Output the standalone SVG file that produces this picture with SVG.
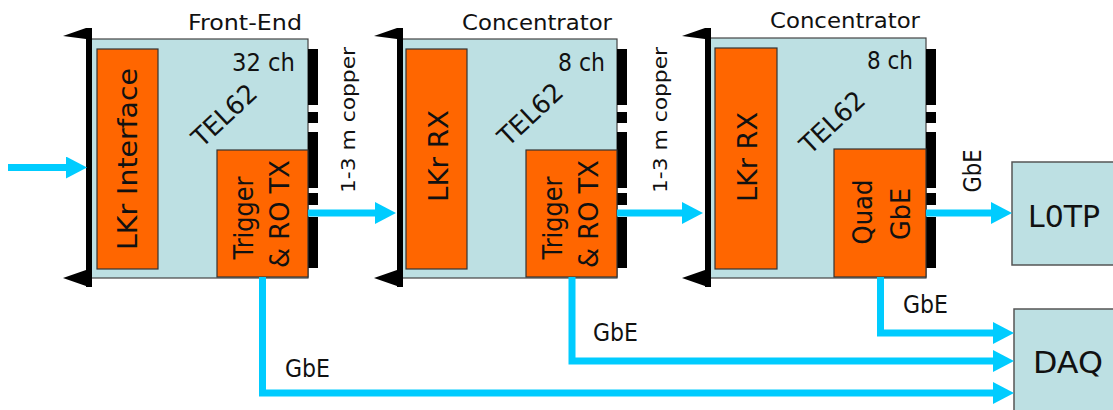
<svg xmlns="http://www.w3.org/2000/svg" xmlns:xlink="http://www.w3.org/1999/xlink" width="1113" height="410" viewBox="0 0 1113 410">
<style>
.board{fill:#bde0e3;stroke:#444;stroke-width:1.2}
.chip{fill:#ff6600;stroke:#333;stroke-width:1.2}
.box{fill:#bde0e3;stroke:#555;stroke-width:1.5}
.strip{fill:#000}
.t{font-family:"DejaVu Sans",sans-serif;fill:#111}
.wire{fill:none;stroke:#00ccff;stroke-width:7;stroke-linejoin:miter}
</style>
<defs>
<marker id="ah" markerUnits="userSpaceOnUse" markerWidth="22" markerHeight="22" viewBox="0 0 22 22" refX="1" refY="11" orient="auto">
<path d="M0,0 L21,11 L0,22 Z" fill="#00ccff"/>
</marker>
<g id="handle">
<rect x="0" y="28" width="6" height="259" fill="#000"/>
<polygon points="-23,36 0,28 6,28 6,41 0,39" fill="#000"/>
<polygon points="-23,278 0,270 6,270 6,287 0,286" fill="#000"/>
</g>
<g id="strips">
<rect class="strip" x="0" y="49" width="10" height="56"/>
<rect class="strip" x="0" y="112" width="10" height="11"/>
<rect class="strip" x="0" y="132" width="10" height="56"/>
<rect class="strip" x="0" y="193" width="10" height="12"/>
<rect class="strip" x="0" y="217" width="10" height="51"/>
</g>
</defs>

<g id="board1">
<rect class="board" x="90" y="39" width="218" height="239"/>
<use xlink:href="#handle" href="#handle" x="86" y="0"/>
<use xlink:href="#strips" href="#strips" x="308" y="0"/>
<rect class="chip" x="97" y="49" width="61" height="220"/>
<rect class="chip" x="217" y="150" width="91" height="127"/>
<text class="t" x="302" y="30" font-size="21" text-anchor="end" textLength="114" lengthAdjust="spacingAndGlyphs">Front-End</text>
<text class="t" x="295" y="71" font-size="24" text-anchor="end" textLength="63" lengthAdjust="spacingAndGlyphs">32 ch</text>
<text class="t" transform="translate(224,115) rotate(-43)" x="0" y="9.5" font-size="26" text-anchor="middle" textLength="78" lengthAdjust="spacingAndGlyphs">TEL62</text>
<text class="t" transform="translate(137,159) rotate(-90)" x="0" y="0" font-size="27" text-anchor="middle" textLength="182" lengthAdjust="spacingAndGlyphs">LKr Interface</text>
<text class="t" transform="translate(253,218) rotate(-90)" x="0" y="0" font-size="26" text-anchor="middle" textLength="83" lengthAdjust="spacingAndGlyphs">Trigger</text>
<text class="t" transform="translate(289,214) rotate(-90)" x="0" y="0" font-size="26" text-anchor="middle" textLength="108" lengthAdjust="spacingAndGlyphs">&amp; RO TX</text>
</g>

<g id="board2">
<rect class="board" x="402" y="39" width="215" height="239"/>
<use xlink:href="#handle" href="#handle" x="397" y="0"/>
<use xlink:href="#strips" href="#strips" x="617" y="0"/>
<rect class="chip" x="406" y="49" width="61" height="220"/>
<rect class="chip" x="526" y="150" width="91" height="127"/>
<text class="t" x="612" y="30" font-size="21" text-anchor="end" textLength="150" lengthAdjust="spacingAndGlyphs">Concentrator</text>
<text class="t" x="605" y="71" font-size="24" text-anchor="end" textLength="47" lengthAdjust="spacingAndGlyphs">8 ch</text>
<text class="t" transform="translate(530,114) rotate(-43)" x="0" y="9.5" font-size="26" text-anchor="middle" textLength="78" lengthAdjust="spacingAndGlyphs">TEL62</text>
<text class="t" transform="translate(448,156) rotate(-90)" x="0" y="0" font-size="27" text-anchor="middle" textLength="92" lengthAdjust="spacingAndGlyphs">LKr RX</text>
<text class="t" transform="translate(562,218) rotate(-90)" x="0" y="0" font-size="26" text-anchor="middle" textLength="83" lengthAdjust="spacingAndGlyphs">Trigger</text>
<text class="t" transform="translate(598,214) rotate(-90)" x="0" y="0" font-size="26" text-anchor="middle" textLength="108" lengthAdjust="spacingAndGlyphs">&amp; RO TX</text>
</g>

<g id="board3">
<rect class="board" x="710" y="38" width="216" height="240"/>
<use xlink:href="#handle" href="#handle" x="705" y="0"/>
<use xlink:href="#strips" href="#strips" x="926" y="0"/>
<rect class="chip" x="715" y="48" width="62" height="221"/>
<rect class="chip" x="834" y="149" width="92" height="128"/>
<text class="t" x="920" y="28" font-size="21" text-anchor="end" textLength="150" lengthAdjust="spacingAndGlyphs">Concentrator</text>
<text class="t" x="913" y="69" font-size="24" text-anchor="end" textLength="46" lengthAdjust="spacingAndGlyphs">8 ch</text>
<text class="t" transform="translate(832,122) rotate(-43)" x="0" y="9.5" font-size="26" text-anchor="middle" textLength="78" lengthAdjust="spacingAndGlyphs">TEL62</text>
<text class="t" transform="translate(757,157) rotate(-90)" x="0" y="0" font-size="27" text-anchor="middle" textLength="90" lengthAdjust="spacingAndGlyphs">LKr RX</text>
<text class="t" transform="translate(872,212) rotate(-90)" x="0" y="0" font-size="26" text-anchor="middle" textLength="65" lengthAdjust="spacingAndGlyphs">Quad</text>
<text class="t" transform="translate(910,214) rotate(-90)" x="0" y="0" font-size="26" text-anchor="middle" textLength="52" lengthAdjust="spacingAndGlyphs">GbE</text>
</g>

<g id="l0tp">
<rect class="box" x="1012" y="162" width="110" height="103"/>
<text class="t" x="1028" y="227" font-size="30" textLength="72" lengthAdjust="spacingAndGlyphs">L0TP</text>
</g>

<g id="daq">
<rect class="box" x="1014" y="309" width="110" height="120"/>
<text class="t" x="1033" y="373" font-size="31" textLength="70" lengthAdjust="spacingAndGlyphs">DAQ</text>
</g>

<g id="connectors">
<path class="wire" d="M8,167.5 H67" marker-end="url(#ah)"/>
<path class="wire" d="M308,213 H376" marker-end="url(#ah)"/>
<path class="wire" d="M617,213 H683" marker-end="url(#ah)"/>
<path class="wire" d="M926,213 H992" marker-end="url(#ah)"/>
<path class="wire" d="M262.5,277 V393 H994" marker-end="url(#ah)"/>
<path class="wire" d="M572,277 V361 H994" marker-end="url(#ah)"/>
<path class="wire" d="M880.5,277 V333 H994" marker-end="url(#ah)"/>
<text class="t" transform="translate(355,120) rotate(-90)" x="0" y="0" font-size="20" text-anchor="middle" textLength="146" lengthAdjust="spacingAndGlyphs">1-3 m copper</text>
<text class="t" transform="translate(667,120) rotate(-90)" x="0" y="0" font-size="20" text-anchor="middle" textLength="146" lengthAdjust="spacingAndGlyphs">1-3 m copper</text>
<text class="t" transform="translate(981,171) rotate(-90)" x="0" y="0" font-size="24" text-anchor="middle" textLength="43" lengthAdjust="spacingAndGlyphs">GbE</text>
<text class="t" x="285" y="377" font-size="24" textLength="45" lengthAdjust="spacingAndGlyphs">GbE</text>
<text class="t" x="593" y="341" font-size="24" textLength="45" lengthAdjust="spacingAndGlyphs">GbE</text>
<text class="t" x="903" y="313" font-size="24" textLength="45" lengthAdjust="spacingAndGlyphs">GbE</text>
</g>
</svg>
